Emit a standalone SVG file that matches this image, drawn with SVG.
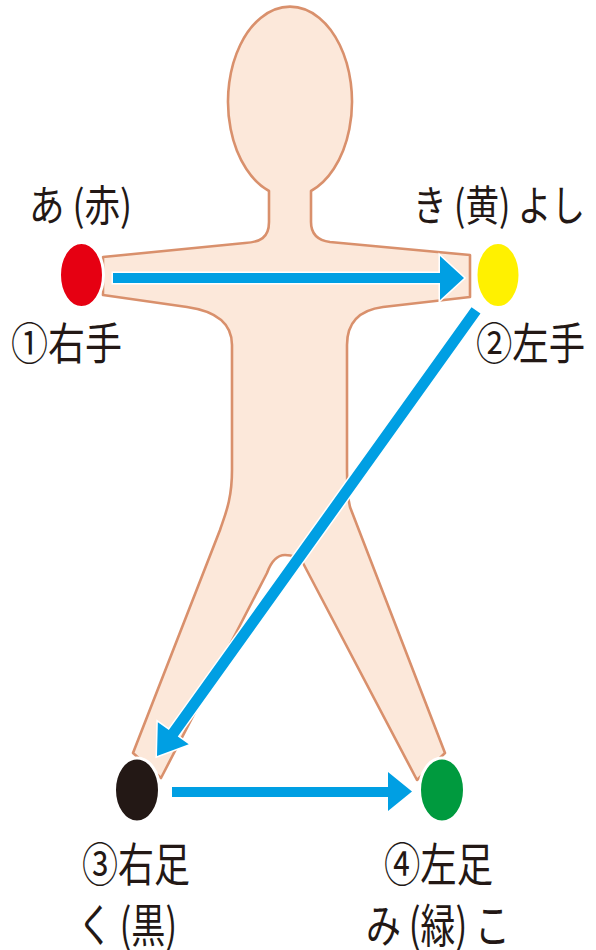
<svg xmlns="http://www.w3.org/2000/svg" width="596" height="950" viewBox="0 0 596 950">
  <style>
    .body { fill: #fce8da; stroke: #d9906c; stroke-width: 2.6; stroke-linejoin: round; }
    .dot { stroke: #ffffff; stroke-width: 3; }
    .arrow { fill: #009fe3; stroke: #ffffff; stroke-width: 3; stroke-linejoin: miter; paint-order: stroke; }
    .label { font-family: "Noto Sans CJK JP", "Noto Sans", sans-serif; fill: #231815; lengthAdjust: spacingAndGlyphs; }
  </style>
  <rect width="596" height="950" fill="#ffffff"/>

  <!-- human figure silhouette -->
  <g id="figure">
    <path class="body" d="M 269 191 L 269 222 C 269 238 260 242 245 243 L 103 257 L 103 295 L 187 307 C 215 311 232 322 232 345 L 232 470 C 232 500 225 515 220 530 L 133 753 L 161 778 L 267 573 C 271 562 277 555 285 555 C 294 555 299 558 303 563 L 417 780 L 445 753 L 350 507 C 347 495 347 482 347 470 L 347 345 C 347 322 360 310 383 307 L 470 297 L 470 255 L 330 242 C 315 240 311 232 311 222 L 311 191 A 62 95 0 1 0 269 191 Z"/>
  </g>

  <!-- connectors -->
  <g id="connectors">
    <polygon class="arrow" points="113,273 440,273 440,256 464,278 440,300 440,283 113,283"/>
    <g transform="translate(157 756) rotate(125.6)">
      <polygon class="arrow" points="-548,-5.5 -28,-5.5 -28,-19 0,0 -28,19 -28,5.5 -548,5.5"/>
    </g>
    <polygon class="arrow" points="172,787 388,787 388,772 412,791.5 388,811 388,797 172,797"/>
  </g>

  <!-- ① right hand -->
  <g id="node-right-hand">
    <ellipse class="dot" cx="81.5" cy="275" rx="22" ry="32.5" fill="#e60012"/>
    <text class="label" x="29" y="221" font-size="42" textLength="103" lengthAdjust="spacingAndGlyphs">あ (赤)</text>
    <text class="label" x="11" y="360" font-size="44" textLength="111" lengthAdjust="spacingAndGlyphs">①右手</text>
  </g>

  <!-- ② left hand -->
  <g id="node-left-hand">
    <ellipse class="dot" cx="498" cy="275" rx="22" ry="32.5" fill="#fff100"/>
    <text class="label" x="413" y="221" font-size="42" textLength="172" lengthAdjust="spacingAndGlyphs">き (黄) よし</text>
    <text class="label" x="476" y="360" font-size="44" textLength="109" lengthAdjust="spacingAndGlyphs">②左手</text>
  </g>

  <!-- ③ right foot -->
  <g id="node-right-foot">
    <ellipse class="dot" cx="137" cy="790" rx="22.5" ry="32" fill="#231815"/>
    <text class="label" x="82" y="881" font-size="46" textLength="108" lengthAdjust="spacingAndGlyphs">③右足</text>
    <text class="label" x="78" y="942" font-size="46" textLength="99" lengthAdjust="spacingAndGlyphs">く (黒)</text>
  </g>

  <!-- ④ left foot -->
  <g id="node-left-foot">
    <ellipse class="dot" cx="442" cy="790" rx="22.5" ry="32" fill="#009a3e"/>
    <text class="label" x="384" y="881" font-size="46" textLength="109" lengthAdjust="spacingAndGlyphs">④左足</text>
    <text class="label" x="366" y="942" font-size="46" textLength="144" lengthAdjust="spacingAndGlyphs">み (緑) こ</text>
  </g>
</svg>
